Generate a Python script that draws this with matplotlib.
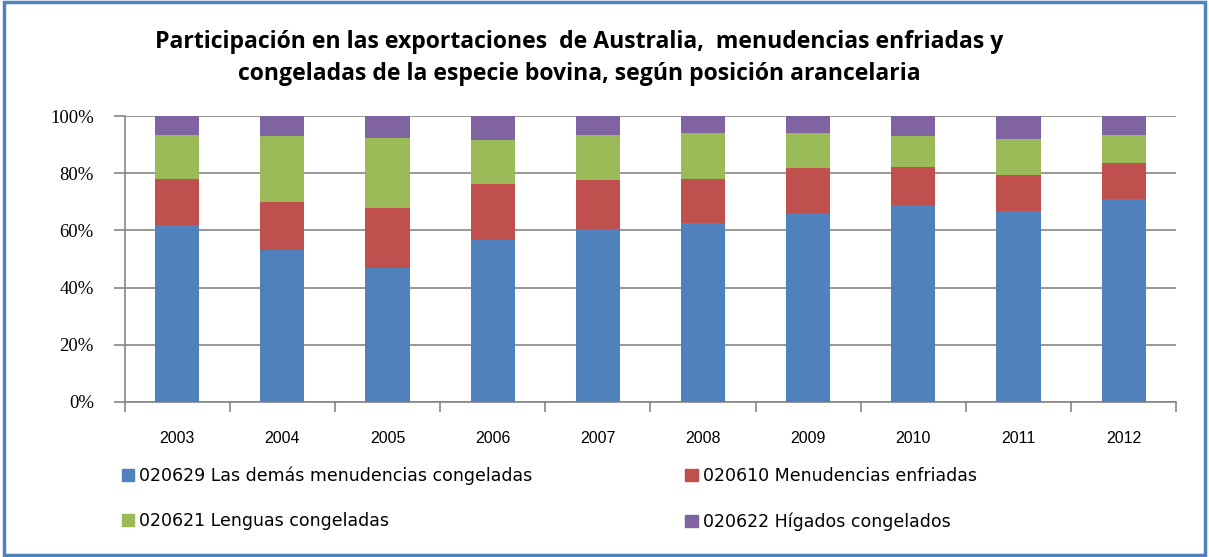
import matplotlib.pyplot as plt
import matplotlib.patches as mpatches
import numpy as np

years = ['2003', '2004', '2005', '2006', '2007', '2008', '2009', '2010', '2011', '2012']

# cumulative tops (%)
tope_azul = [61.9, 53.1, 46.8, 56.6, 60.5, 62.7, 66.2, 69.1, 66.8, 71.0]
tope_rojo = [78.1, 70.0, 67.9, 76.3, 77.7, 78.1, 81.9, 82.3, 79.5, 83.7]
tope_verde = [93.5, 93.2, 92.5, 91.8, 93.5, 94.3, 94.3, 93.2, 92.1, 93.5]

# shares per tariff position
demas = np.array(tope_azul)
enfriadas = np.array(tope_rojo) - np.array(tope_azul)
lenguas = np.array(tope_verde) - np.array(tope_rojo)
higados = 100 - np.array(tope_verde)

series = [
    ('020629 Las demás menudencias congeladas', demas, '#4F81BD'),
    ('020610 Menudencias enfriadas', enfriadas, '#C0504D'),
    ('020621 Lenguas congeladas', lenguas, '#9BBB59'),
    ('020622 Hígados congelados', higados, '#8064A2'),
]

fig = plt.figure(figsize=(12.09, 5.57), dpi=100)
ax = fig.add_axes([0.103, 0.279, 0.870, 0.512])

x = np.arange(len(years))
bottom = np.zeros(len(years))
handles = []
for label, vals, color in series:
    ax.bar(x, vals, bottom=bottom, width=0.42, color=color, label=label, zorder=3)
    bottom += vals
    handles.append(mpatches.Patch(color=color, label=label))

ax.set_xlim(-0.5, len(years) - 0.5)
ax.set_ylim(0, 100)
ax.set_yticks(np.arange(0, 101, 20))
ax.set_yticklabels([f'{v}%' for v in range(0, 101, 20)], fontsize=13.5, family='Liberation Serif')
ax.yaxis.grid(True, color='#868686', linewidth=1.2, zorder=0)

ax.set_xticks(x)
ax.set_xticklabels(years, fontsize=11.5, family='Liberation Sans')
ax.set_xticks(np.arange(-0.5, len(years)), minor=True)
ax.tick_params(axis='x', which='major', length=0, pad=21)
ax.tick_params(axis='x', which='minor', length=7, color='#868686', width=1.2)
ax.tick_params(axis='y', length=8, color='#868686', width=1.2, pad=14)

for side in ['top', 'right']:
    ax.spines[side].set_visible(False)
for side in ['left', 'bottom']:
    ax.spines[side].set_color('#868686')
    ax.spines[side].set_linewidth(1.2)

fig.text(0.479, 0.925, 'Participación en las exportaciones  de Australia,  menudencias enfriadas y',
         ha='center', va='center', fontsize=16.6, fontweight='bold', family='Open Sans')
fig.text(0.479, 0.868, 'congeladas de la especie bovina, según posición arancelaria',
         ha='center', va='center', fontsize=16.6, fontweight='bold', family='Open Sans')

# row-wise order like the original legend
orden = [handles[0], handles[2], handles[1], handles[3]]
fig.legend(handles=orden, loc='lower left', bbox_to_anchor=(0.088, 0.019), ncol=2,
           frameon=False, handlelength=0.7, handleheight=0.7,
           handletextpad=0.3, columnspacing=8.8, labelspacing=1.55,
           prop={'family': 'DejaVu Sans', 'size': 12.5})

# blue outer frame
fig.patches.append(mpatches.Rectangle((0.003, 0.004), 0.994, 0.992, transform=fig.transFigure,
                                      fill=False, edgecolor='#4F81BD', linewidth=2.5))

fig.savefig('out.png', dpi=100)
